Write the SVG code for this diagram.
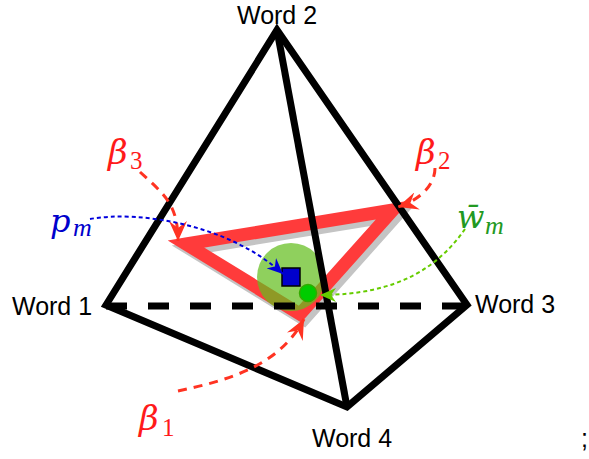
<svg xmlns="http://www.w3.org/2000/svg" width="589" height="459" viewBox="0 0 589 459">
<style>
.word{font-family:"Liberation Sans",Arial,sans-serif;font-size:25px;fill:#000}
.math{font-family:"DejaVu Serif","Liberation Serif",serif;font-style:italic;font-size:34px}
.mathp{font-family:"DejaVu Serif","Liberation Serif",serif;font-style:italic;font-size:32px}
.sub{font-family:"Liberation Serif","DejaVu Serif",serif;font-size:25px}
.subi{font-family:"Liberation Serif","DejaVu Serif",serif;font-style:italic;font-size:26px}
.edge{fill:none;stroke:#000;stroke-width:7;stroke-linejoin:miter;stroke-miterlimit:10}
</style>
<defs>
<marker id="ahRed" viewBox="-20 -9 22 18" refX="0" refY="0" markerWidth="22" markerHeight="18" markerUnits="userSpaceOnUse" orient="auto"><path d="M0,0 L-20,-9 L-13,0 L-20,9 Z" fill="#ff3322"/></marker>
<marker id="ahBlue" viewBox="-16 -7 18 14" refX="0" refY="0" markerWidth="18" markerHeight="14" markerUnits="userSpaceOnUse" orient="auto"><path d="M0,0 L-16,-7 L-11,0 L-16,7 Z" fill="#0000dd"/></marker>
<marker id="ahGreen" viewBox="-16 -7 18 14" refX="0" refY="0" markerWidth="18" markerHeight="14" markerUnits="userSpaceOnUse" orient="auto"><path d="M0,0 L-16,-7 L-11,0 L-16,7 Z" fill="#66cc00"/></marker>
</defs>
<rect width="589" height="459" fill="#fff"/>
<g id="simplex">
<polygon points="190,249 397,215 304,319" fill="none" stroke="#c4c4c4" stroke-width="13" stroke-linejoin="miter"/>
<polygon points="186,244 393,210 300,314" fill="none" stroke="#ff3b3b" stroke-width="13" stroke-linejoin="miter"/>
</g>
<g id="ball">
<circle cx="291" cy="277" r="34" fill="rgb(100,190,30)" fill-opacity="0.72"/>
</g>
<g id="tetrahedron">
<path class="edge" d="M106,305 L277,30 L467,305 L347,407 Z"/>
<path class="edge" d="M277,30 L347,407"/>
<path class="edge" d="M106,306 L467,306" stroke-dasharray="21 21"/>
</g>
<g id="pm-point">
<rect x="282" y="268" width="18" height="18" fill="#0000cc" stroke="#000" stroke-width="1.5"/>
</g>
<g id="wm-point">
<circle cx="308" cy="293" r="8.5" fill="#00cc00" stroke="#33aa00" stroke-width="1.5"/>
</g>
<g id="connectors" fill="none">
<path d="M140,172 C165,195 178,205 178,241" stroke="#ff3322" stroke-width="3" stroke-dasharray="9 7" marker-end="url(#ahRed)"/>
<path d="M435,168 C435,185 420,200 398,207" stroke="#ff3322" stroke-width="3" stroke-dasharray="9 7" marker-end="url(#ahRed)"/>
<path d="M178,391 C230,380 280,365 304,319" stroke="#ff3322" stroke-width="3" stroke-dasharray="9 7" marker-end="url(#ahRed)"/>
<path d="M90,219 C140,210 230,225 283,274" stroke="#0000dd" stroke-width="2" stroke-dasharray="4 3" marker-end="url(#ahBlue)"/>
<path d="M465,229 C440,265 400,295 320,295" stroke="#66cc00" stroke-width="2" stroke-dasharray="4 3" marker-end="url(#ahGreen)"/>
</g>
<g id="labels">
<text class="word" x="237" y="24">Word 2</text>
<text class="word" x="12" y="315">Word 1</text>
<text class="word" x="475" y="313">Word 3</text>
<text class="word" x="312" y="447">Word 4</text>
<text class="word" x="581" y="447">;</text>
<text fill="#ff1a1a"><tspan class="math" x="108" y="164">β</tspan><tspan class="sub" x="130" y="169">3</tspan></text>
<text fill="#ff1a1a"><tspan class="math" x="416" y="164">β</tspan><tspan class="sub" x="438" y="169">2</tspan></text>
<text fill="#ff1a1a"><tspan class="math" x="139" y="430">β</tspan><tspan class="sub" x="162" y="436">1</tspan></text>
<text fill="#0000cc"><tspan class="mathp" x="50" y="232">p</tspan><tspan class="subi" x="73" y="236">m</tspan></text>
<text fill="#229922"><tspan class="mathp" x="457" y="228">w̄</tspan><tspan class="subi" x="485" y="234">m</tspan></text>
</g>
</svg>
